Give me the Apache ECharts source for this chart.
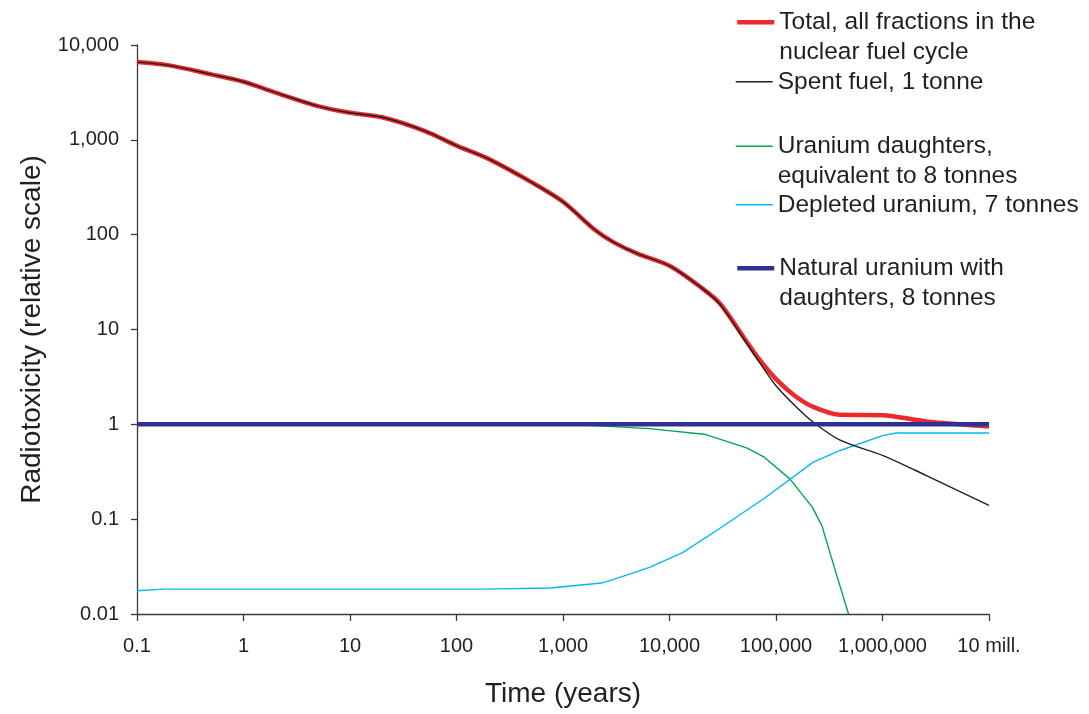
<!DOCTYPE html>
<html>
<head>
<meta charset="utf-8">
<script src="https://cdn.jsdelivr.net/npm/echarts@6/dist/echarts.min.js"></script>
<style>
  html, body { margin: 0; padding: 0; background: #fff; }
  #main { width: 1089px; height: 714px; }
</style>
</head>
<body>
<div id="main"></div>
<script>
var xTickLabels = ["0.1", "1", "10", "100", "1,000", "10,000", "100,000", "1,000,000", "10 mill."];
var yTickLabels = ["0.01", "0.1", "1", "10", "100", "1,000", "10,000"];

// total and spent fuel share one time grid (years)
var fuelYears = [0.1, 0.2, 0.5, 1, 2, 5, 10, 20, 50, 100, 200, 500, 1000, 2000, 3000, 5000,
  10000, 20000, 30000, 50000, 70000, 100000, 150000, 220000, 400000, 1000000, 2000000, 3000000, 10000000];
var totalValues = [6600, 6100, 4900, 4100, 3150, 2270, 1930, 1730, 1245, 870, 630, 360, 222, 112, 83, 63,
  47, 27.5, 18.6, 8.2, 4.8, 3.0, 2.0, 1.54, 1.26, 1.25, 1.12, 1.05, 0.95];
var spentValues = [6600, 6100, 4900, 4100, 3150, 2270, 1930, 1730, 1245, 870, 630, 360, 222, 112, 83, 63,
  47, 27.5, 18.3, 7.9, 4.5, 2.55, 1.58, 1.07, 0.68, 0.47, 0.33, 0.266, 0.14];

var daughterYears = [0.1, 1000, 2000, 6500, 22000, 53000, 76000, 135000, 220000, 270000, 370000, 480000];
var daughterValues = [1, 0.99, 0.97, 0.9, 0.78, 0.565, 0.457, 0.266, 0.133, 0.085, 0.026, 0.01];

var depletedYears = [0.1, 0.18, 180, 760, 2300, 3300, 6500, 13400, 27700, 76000, 224000, 400000, 1000000, 1350000, 10000000];
var depletedValues = [0.0176, 0.0183, 0.0183, 0.0188, 0.0212, 0.024, 0.031, 0.0446, 0.076, 0.163, 0.4, 0.53, 0.76, 0.81, 0.81];

var naturalYears = [0.1, 10000000];
var naturalValues = [1, 1];

function pairs(xs, ys) {
  return xs.map(function (x, i) { return [x, ys[i]]; });
}

var names = [
  "Total, all fractions in the\nnuclear fuel cycle",
  "Spent fuel, 1 tonne",
  "Uranium daughters,\nequivalent to 8 tonnes",
  "Depleted uranium, 7 tonnes",
  "Natural uranium with\ndaughters, 8 tonnes"
];

var textColor = "#231f20";
var font = "Liberation Sans";

// two-line entries get an empty first line so the icon sits beside the first real line
function legendAt(name, top, twoLines, lineWidth) {
  return {
    data: [{ name: name }],
    left: 735,
    top: top,
    padding: 0,
    itemWidth: 37,
    itemHeight: 30,
    itemGap: 0,
    selectedMode: false,
    itemStyle: { opacity: 0 },
    lineStyle: { width: lineWidth },
    formatter: twoLines ? "\n{name}" : "{name}",
    textStyle: {
      fontFamily: font,
      fontSize: 24.5,
      color: textColor,
      lineHeight: 29.5
    }
  };
}

var chartDom = document.getElementById("main");
var myChart = echarts.init(chartDom, null, { renderer: "canvas" });

var option = {
  animation: false,
  backgroundColor: "#ffffff",
  legend: [
    legendAt(names[0], -22, true, 4.5),
    legendAt(names[1], 67, false, 1.4),
    legendAt(names[2], 102, true, 1.4),
    legendAt(names[3], 190, false, 1.4),
    legendAt(names[4], 224, true, 4.5)
  ],
  grid: { left: 137, right: 100, top: 45, bottom: 100 },
  xAxis: {
    type: "log",
    logBase: 10,
    min: 0.1,
    max: 10000000,
    splitNumber: 8,
    name: "Time (years)",
    nameLocation: "middle",
    nameGap: 66,
    nameTextStyle: { fontFamily: font, fontSize: 28, color: textColor },
    axisLine: { lineStyle: { color: "#3a3a3a", width: 1.3 } },
    axisTick: { inside: false, length: 7, lineStyle: { color: "#3a3a3a", width: 1.3 } },
    splitLine: { show: false },
    minorTick: { show: false },
    axisLabel: {
      margin: 22,
      fontFamily: font,
      fontSize: 20,
      color: textColor,
      formatter: function (v) {
        return xTickLabels[Math.round(Math.log10(v)) + 1];
      }
    }
  },
  yAxis: {
    type: "log",
    logBase: 10,
    min: 0.01,
    max: 10000,
    splitNumber: 6,
    name: "Radiotoxicity (relative scale)",
    nameLocation: "middle",
    nameGap: 91,
    nameTextStyle: { fontFamily: font, fontSize: 28, color: textColor },
    axisLine: { show: true, lineStyle: { color: "#3a3a3a", width: 1.3 } },
    axisTick: { show: true, inside: false, length: 6, lineStyle: { color: "#3a3a3a", width: 1.3 } },
    splitLine: { show: false },
    axisLabel: {
      margin: 18,
      fontFamily: font,
      fontSize: 20,
      color: textColor,
      formatter: function (v) {
        return yTickLabels[Math.round(Math.log10(v)) + 2];
      }
    }
  },
  series: [
    {
      name: names[2],
      type: "line",
      symbol: "none",
      z: 1,
      color: "#00a651",
      lineStyle: { color: "#00a651", width: 1.4 },
      data: pairs(daughterYears, daughterValues)
    },
    {
      name: names[3],
      type: "line",
      symbol: "none",
      z: 2,
      color: "#00b9f1",
      lineStyle: { color: "#00b9f1", width: 1.4 },
      data: pairs(depletedYears, depletedValues)
    },
    {
      name: names[0],
      type: "line",
      symbol: "none",
      smooth: 0.3,
      z: 3,
      color: "#ec2a2e",
      lineStyle: { color: "#ec2a2e", width: 4.5 },
      data: pairs(fuelYears, totalValues)
    },
    {
      name: names[1],
      type: "line",
      symbol: "none",
      smooth: 0.3,
      z: 4,
      color: "#231f20",
      lineStyle: { color: "#231f20", width: 1.4 },
      data: pairs(fuelYears, spentValues)
    },
    {
      name: names[4],
      type: "line",
      symbol: "none",
      z: 5,
      color: "#2e3192",
      lineStyle: { color: "#2e3192", width: 4.5 },
      data: pairs(naturalYears, naturalValues)
    }
  ]
};

option && myChart.setOption(option);
</script>
</body>
</html>
